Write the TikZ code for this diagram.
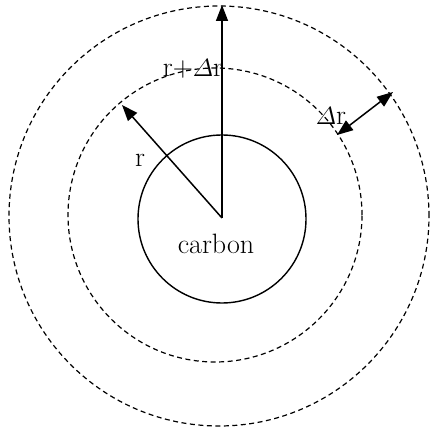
\documentclass[tikz,border=0pt]{standalone}
\usepackage{amsmath}
\usetikzlibrary{arrows.meta}
\begin{document}
\begin{tikzpicture}[x=1pt,y=1pt,
  ring/.style={draw=black,line width=1.2pt,dash pattern=on 5pt off 3.5pt},
  core/.style={draw=black,line width=1.4pt},
  vec/.style={line width=1.5pt,-{Triangle[length=16pt,width=12pt]}},
  dvec/.style={line width=1.5pt,{Triangle[length=16pt,width=12pt]}-{Triangle[length=16pt,width=12pt]}},
  lbl/.style={font=\fontsize{28}{32}\selectfont,inner sep=0pt}]
\useasboundingbox (0,0) rectangle (429,430);
\draw[ring] (219,214) circle (210);
\draw[ring] (215,215) circle (147);
\draw[core] (222,211) circle (84);
\coordinate (O) at (222,212);
\coordinate (top) at (222,425);
\coordinate (rend) at (122,325);
\coordinate (d1) at (337,295);
\coordinate (d2) at (393,338);
\draw[vec] (O) -- (top);
\draw[vec] (O) -- (rend);
\draw[dvec] (d1) -- (d2);
\node[lbl] (lrd) at (193,361) {r+$\varDelta$r};
\node[lbl] (ld) at (331,314) {$\varDelta$r};
\node[lbl] (lr) at (140,270) {r};
\node[lbl] (lc) at (216,186) {carbon};
\end{tikzpicture}
\end{document}
